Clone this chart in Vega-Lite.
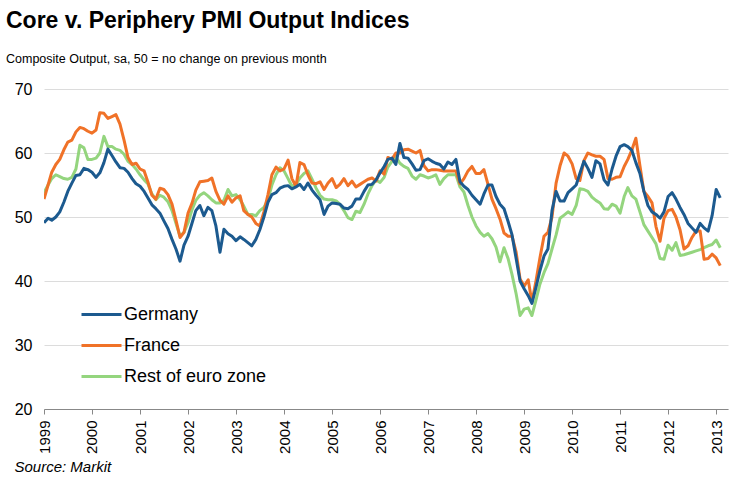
{
  "$schema": "https://vega.github.io/schema/vega-lite/v6.json",
  "width": 684,
  "height": 320,
  "autosize": "none",
  "padding": {"left": 44, "top": 89, "right": 8, "bottom": 70},
  "background": "white",
  "title": {
    "text": "Core v. Periphery PMI Output Indices",
    "subtitle": "Composite Output, sa, 50 = no change on previous month",
    "anchor": "start",
    "frame": "group",
    "dx": -38,
    "offset": 16,
    "font": "Liberation Sans",
    "fontSize": 23,
    "fontWeight": "bold",
    "color": "#000000",
    "subtitleFont": "Liberation Sans",
    "subtitleFontSize": 12.5,
    "subtitleColor": "#000000",
    "subtitlePadding": 20
  },
  "config": {
    "view": {"stroke": null},
    "font": "Liberation Sans"
  },
  "data": {
    "values": [
      {"d":"1999-01-01","Germany":49.1,"France":52.8,"Rest of euro zone":53.8},
      {"d":"1999-02-01","Germany":49.8,"France":55.0,"Rest of euro zone":55.0},
      {"d":"1999-03-01","Germany":49.5,"France":57.0,"Rest of euro zone":56.0},
      {"d":"1999-04-01","Germany":50.0,"France":58.2,"Rest of euro zone":56.6},
      {"d":"1999-05-01","Germany":50.8,"France":59.0,"Rest of euro zone":56.3},
      {"d":"1999-06-01","Germany":52.3,"France":60.5,"Rest of euro zone":56.0},
      {"d":"1999-07-01","Germany":54.0,"France":61.7,"Rest of euro zone":55.9},
      {"d":"1999-08-01","Germany":55.3,"France":62.0,"Rest of euro zone":56.2},
      {"d":"1999-09-01","Germany":56.5,"France":63.3,"Rest of euro zone":57.5},
      {"d":"1999-10-01","Germany":56.6,"France":64.0,"Rest of euro zone":61.2},
      {"d":"1999-11-01","Germany":57.6,"France":63.8,"Rest of euro zone":60.8},
      {"d":"1999-12-01","Germany":57.4,"France":63.4,"Rest of euro zone":59.0},
      {"d":"2000-01-01","Germany":57.0,"France":63.1,"Rest of euro zone":59.0},
      {"d":"2000-02-01","Germany":56.2,"France":63.6,"Rest of euro zone":59.2},
      {"d":"2000-03-01","Germany":56.9,"France":66.3,"Rest of euro zone":60.0},
      {"d":"2000-04-01","Germany":58.5,"France":66.2,"Rest of euro zone":62.6},
      {"d":"2000-05-01","Germany":60.6,"France":65.4,"Rest of euro zone":61.0},
      {"d":"2000-06-01","Germany":59.6,"France":65.7,"Rest of euro zone":61.0},
      {"d":"2000-07-01","Germany":58.6,"France":66.0,"Rest of euro zone":60.6},
      {"d":"2000-08-01","Germany":57.7,"France":64.5,"Rest of euro zone":60.4},
      {"d":"2000-09-01","Germany":57.6,"France":62.0,"Rest of euro zone":59.8},
      {"d":"2000-10-01","Germany":57.0,"France":59.3,"Rest of euro zone":58.7},
      {"d":"2000-11-01","Germany":56.0,"France":58.2,"Rest of euro zone":58.2},
      {"d":"2000-12-01","Germany":55.2,"France":58.4,"Rest of euro zone":57.5},
      {"d":"2001-01-01","Germany":54.8,"France":57.5,"Rest of euro zone":56.6},
      {"d":"2001-02-01","Germany":54.0,"France":57.2,"Rest of euro zone":55.8},
      {"d":"2001-03-01","Germany":53.0,"France":55.5,"Rest of euro zone":55.2},
      {"d":"2001-04-01","Germany":51.9,"France":53.4,"Rest of euro zone":53.6},
      {"d":"2001-05-01","Germany":51.3,"France":52.8,"Rest of euro zone":52.7},
      {"d":"2001-06-01","Germany":50.6,"France":54.5,"Rest of euro zone":53.4},
      {"d":"2001-07-01","Germany":49.4,"France":54.3,"Rest of euro zone":53.1},
      {"d":"2001-08-01","Germany":48.2,"France":53.5,"Rest of euro zone":52.4},
      {"d":"2001-09-01","Germany":46.5,"France":52.0,"Rest of euro zone":51.0},
      {"d":"2001-10-01","Germany":45.0,"France":49.5,"Rest of euro zone":49.0},
      {"d":"2001-11-01","Germany":43.1,"France":46.8,"Rest of euro zone":47.0},
      {"d":"2001-12-01","Germany":45.6,"France":47.6,"Rest of euro zone":47.6},
      {"d":"2002-01-01","Germany":47.0,"France":50.6,"Rest of euro zone":49.1},
      {"d":"2002-02-01","Germany":49.1,"France":52.2,"Rest of euro zone":51.2},
      {"d":"2002-03-01","Germany":51.0,"France":54.2,"Rest of euro zone":52.6},
      {"d":"2002-04-01","Germany":51.8,"France":55.5,"Rest of euro zone":53.4},
      {"d":"2002-05-01","Germany":50.2,"France":55.6,"Rest of euro zone":53.8},
      {"d":"2002-06-01","Germany":51.5,"France":55.7,"Rest of euro zone":53.3},
      {"d":"2002-07-01","Germany":51.0,"France":56.1,"Rest of euro zone":52.7},
      {"d":"2002-08-01","Germany":48.6,"France":54.0,"Rest of euro zone":52.2},
      {"d":"2002-09-01","Germany":44.5,"France":52.6,"Rest of euro zone":52.2},
      {"d":"2002-10-01","Germany":48.1,"France":52.0,"Rest of euro zone":52.6},
      {"d":"2002-11-01","Germany":47.4,"France":53.3,"Rest of euro zone":54.3},
      {"d":"2002-12-01","Germany":47.0,"France":52.3,"Rest of euro zone":53.3},
      {"d":"2003-01-01","Germany":46.3,"France":53.0,"Rest of euro zone":53.5},
      {"d":"2003-02-01","Germany":46.9,"France":53.3,"Rest of euro zone":52.7},
      {"d":"2003-03-01","Germany":46.5,"France":51.0,"Rest of euro zone":51.7},
      {"d":"2003-04-01","Germany":46.0,"France":50.4,"Rest of euro zone":50.4},
      {"d":"2003-05-01","Germany":45.5,"France":50.0,"Rest of euro zone":50.4},
      {"d":"2003-06-01","Germany":46.5,"France":49.0,"Rest of euro zone":50.2},
      {"d":"2003-07-01","Germany":48.0,"France":48.6,"Rest of euro zone":51.0},
      {"d":"2003-08-01","Germany":50.0,"France":50.8,"Rest of euro zone":51.5},
      {"d":"2003-09-01","Germany":52.3,"France":53.5,"Rest of euro zone":52.7},
      {"d":"2003-10-01","Germany":53.5,"France":56.6,"Rest of euro zone":55.0},
      {"d":"2003-11-01","Germany":53.8,"France":57.8,"Rest of euro zone":56.6},
      {"d":"2003-12-01","Germany":54.5,"France":57.2,"Rest of euro zone":57.7},
      {"d":"2004-01-01","Germany":54.8,"France":57.5,"Rest of euro zone":57.2},
      {"d":"2004-02-01","Germany":54.9,"France":58.9,"Rest of euro zone":56.0},
      {"d":"2004-03-01","Germany":54.4,"France":56.0,"Rest of euro zone":54.8},
      {"d":"2004-04-01","Germany":54.7,"France":54.8,"Rest of euro zone":55.1},
      {"d":"2004-05-01","Germany":55.1,"France":58.5,"Rest of euro zone":56.1},
      {"d":"2004-06-01","Germany":54.3,"France":58.2,"Rest of euro zone":56.8},
      {"d":"2004-07-01","Germany":55.3,"France":56.6,"Rest of euro zone":57.2},
      {"d":"2004-08-01","Germany":54.2,"France":55.3,"Rest of euro zone":55.9},
      {"d":"2004-09-01","Germany":53.4,"France":55.2,"Rest of euro zone":54.5},
      {"d":"2004-10-01","Germany":52.7,"France":55.5,"Rest of euro zone":53.4},
      {"d":"2004-11-01","Germany":50.4,"France":54.3,"Rest of euro zone":52.8},
      {"d":"2004-12-01","Germany":51.7,"France":55.3,"Rest of euro zone":52.7},
      {"d":"2005-01-01","Germany":52.2,"France":56.0,"Rest of euro zone":52.7},
      {"d":"2005-02-01","Germany":52.1,"France":54.6,"Rest of euro zone":52.5},
      {"d":"2005-03-01","Germany":52.0,"France":55.1,"Rest of euro zone":52.0},
      {"d":"2005-04-01","Germany":51.4,"France":56.0,"Rest of euro zone":51.0},
      {"d":"2005-05-01","Germany":51.3,"France":54.9,"Rest of euro zone":49.9},
      {"d":"2005-06-01","Germany":51.7,"France":55.6,"Rest of euro zone":49.6},
      {"d":"2005-07-01","Germany":52.8,"France":54.7,"Rest of euro zone":50.9},
      {"d":"2005-08-01","Germany":52.8,"France":55.1,"Rest of euro zone":50.7},
      {"d":"2005-09-01","Germany":54.0,"France":55.5,"Rest of euro zone":52.0},
      {"d":"2005-10-01","Germany":55.0,"France":55.9,"Rest of euro zone":53.6},
      {"d":"2005-11-01","Germany":55.1,"France":56.1,"Rest of euro zone":54.9},
      {"d":"2005-12-01","Germany":55.8,"France":55.6,"Rest of euro zone":55.8},
      {"d":"2006-01-01","Germany":56.9,"France":57.2,"Rest of euro zone":55.4},
      {"d":"2006-02-01","Germany":57.9,"France":56.7,"Rest of euro zone":56.2},
      {"d":"2006-03-01","Germany":59.0,"France":59.3,"Rest of euro zone":57.8},
      {"d":"2006-04-01","Germany":59.2,"France":59.0,"Rest of euro zone":58.7},
      {"d":"2006-05-01","Germany":58.2,"France":60.0,"Rest of euro zone":59.4},
      {"d":"2006-06-01","Germany":61.5,"France":60.0,"Rest of euro zone":58.4},
      {"d":"2006-07-01","Germany":59.3,"France":60.5,"Rest of euro zone":57.9},
      {"d":"2006-08-01","Germany":59.2,"France":60.6,"Rest of euro zone":57.6},
      {"d":"2006-09-01","Germany":58.3,"France":60.3,"Rest of euro zone":56.4},
      {"d":"2006-10-01","Germany":57.3,"France":60.0,"Rest of euro zone":55.9},
      {"d":"2006-11-01","Germany":57.4,"France":60.4,"Rest of euro zone":56.6},
      {"d":"2006-12-01","Germany":58.8,"France":58.0,"Rest of euro zone":56.4},
      {"d":"2007-01-01","Germany":59.1,"France":57.2,"Rest of euro zone":56.1},
      {"d":"2007-02-01","Germany":58.7,"France":57.4,"Rest of euro zone":56.3},
      {"d":"2007-03-01","Germany":58.4,"France":57.4,"Rest of euro zone":56.6},
      {"d":"2007-04-01","Germany":58.2,"France":57.3,"Rest of euro zone":55.1},
      {"d":"2007-05-01","Germany":57.5,"France":57.2,"Rest of euro zone":56.0},
      {"d":"2007-06-01","Germany":58.6,"France":57.2,"Rest of euro zone":56.6},
      {"d":"2007-07-01","Germany":58.2,"France":57.2,"Rest of euro zone":56.6},
      {"d":"2007-08-01","Germany":59.0,"France":57.2,"Rest of euro zone":56.6},
      {"d":"2007-09-01","Germany":55.5,"France":55.2,"Rest of euro zone":54.7},
      {"d":"2007-10-01","Germany":54.8,"France":56.0,"Rest of euro zone":53.9},
      {"d":"2007-11-01","Germany":54.3,"France":57.2,"Rest of euro zone":51.8},
      {"d":"2007-12-01","Germany":53.4,"France":57.9,"Rest of euro zone":50.0},
      {"d":"2008-01-01","Germany":52.7,"France":56.8,"Rest of euro zone":48.6},
      {"d":"2008-02-01","Germany":52.0,"France":56.8,"Rest of euro zone":47.6},
      {"d":"2008-03-01","Germany":53.6,"France":57.4,"Rest of euro zone":47.0},
      {"d":"2008-04-01","Germany":55.0,"France":55.1,"Rest of euro zone":47.4},
      {"d":"2008-05-01","Germany":55.0,"France":52.8,"Rest of euro zone":46.6},
      {"d":"2008-06-01","Germany":53.2,"France":51.3,"Rest of euro zone":45.3},
      {"d":"2008-07-01","Germany":52.0,"France":49.7,"Rest of euro zone":43.0},
      {"d":"2008-08-01","Germany":51.3,"France":47.5,"Rest of euro zone":45.2},
      {"d":"2008-09-01","Germany":49.3,"France":47.0,"Rest of euro zone":43.5},
      {"d":"2008-10-01","Germany":47.2,"France":47.0,"Rest of euro zone":41.0},
      {"d":"2008-11-01","Germany":43.5,"France":44.5,"Rest of euro zone":38.0},
      {"d":"2008-12-01","Germany":40.0,"France":40.3,"Rest of euro zone":34.6},
      {"d":"2009-01-01","Germany":38.8,"France":39.2,"Rest of euro zone":35.6},
      {"d":"2009-02-01","Germany":37.7,"France":40.2,"Rest of euro zone":35.8},
      {"d":"2009-03-01","Germany":36.5,"France":36.7,"Rest of euro zone":34.6},
      {"d":"2009-04-01","Germany":39.0,"France":40.0,"Rest of euro zone":37.0},
      {"d":"2009-05-01","Germany":41.6,"France":43.6,"Rest of euro zone":39.5},
      {"d":"2009-06-01","Germany":43.9,"France":47.0,"Rest of euro zone":41.3},
      {"d":"2009-07-01","Germany":45.0,"France":47.6,"Rest of euro zone":42.7},
      {"d":"2009-08-01","Germany":51.0,"France":50.0,"Rest of euro zone":45.0},
      {"d":"2009-09-01","Germany":54.0,"France":55.3,"Rest of euro zone":47.2},
      {"d":"2009-10-01","Germany":52.5,"France":58.0,"Rest of euro zone":49.8},
      {"d":"2009-11-01","Germany":52.5,"France":60.0,"Rest of euro zone":50.3},
      {"d":"2009-12-01","Germany":53.8,"France":59.5,"Rest of euro zone":50.8},
      {"d":"2010-01-01","Germany":54.4,"France":58.3,"Rest of euro zone":50.4},
      {"d":"2010-02-01","Germany":55.0,"France":56.0,"Rest of euro zone":51.8},
      {"d":"2010-03-01","Germany":56.8,"France":55.7,"Rest of euro zone":54.4},
      {"d":"2010-04-01","Germany":58.7,"France":58.8,"Rest of euro zone":54.3},
      {"d":"2010-05-01","Germany":57.6,"France":60.0,"Rest of euro zone":54.0},
      {"d":"2010-06-01","Germany":56.2,"France":59.7,"Rest of euro zone":53.1},
      {"d":"2010-07-01","Germany":58.8,"France":59.5,"Rest of euro zone":52.6},
      {"d":"2010-08-01","Germany":58.3,"France":59.5,"Rest of euro zone":52.2},
      {"d":"2010-09-01","Germany":55.8,"France":59.0,"Rest of euro zone":51.3},
      {"d":"2010-10-01","Germany":55.0,"France":56.0,"Rest of euro zone":51.2},
      {"d":"2010-11-01","Germany":57.5,"France":55.9,"Rest of euro zone":52.0},
      {"d":"2010-12-01","Germany":59.5,"France":56.2,"Rest of euro zone":51.7},
      {"d":"2011-01-01","Germany":61.0,"France":56.3,"Rest of euro zone":50.6},
      {"d":"2011-02-01","Germany":61.3,"France":57.9,"Rest of euro zone":53.2},
      {"d":"2011-03-01","Germany":61.0,"France":59.0,"Rest of euro zone":54.6},
      {"d":"2011-04-01","Germany":60.4,"France":60.5,"Rest of euro zone":53.3},
      {"d":"2011-05-01","Germany":58.5,"France":62.3,"Rest of euro zone":52.8},
      {"d":"2011-06-01","Germany":56.8,"France":58.0,"Rest of euro zone":50.8},
      {"d":"2011-07-01","Germany":54.0,"France":54.0,"Rest of euro zone":48.8},
      {"d":"2011-08-01","Germany":51.8,"France":53.2,"Rest of euro zone":47.8},
      {"d":"2011-09-01","Germany":50.8,"France":52.2,"Rest of euro zone":46.8},
      {"d":"2011-10-01","Germany":50.4,"France":48.5,"Rest of euro zone":45.8},
      {"d":"2011-11-01","Germany":49.8,"France":46.2,"Rest of euro zone":43.5},
      {"d":"2011-12-01","Germany":50.8,"France":49.8,"Rest of euro zone":43.4},
      {"d":"2012-01-01","Germany":53.2,"France":51.0,"Rest of euro zone":45.6},
      {"d":"2012-02-01","Germany":53.8,"France":51.2,"Rest of euro zone":44.8},
      {"d":"2012-03-01","Germany":52.8,"France":50.0,"Rest of euro zone":46.0},
      {"d":"2012-04-01","Germany":51.5,"France":48.0,"Rest of euro zone":44.0},
      {"d":"2012-05-01","Germany":50.4,"France":45.0,"Rest of euro zone":44.1},
      {"d":"2012-06-01","Germany":49.0,"France":45.5,"Rest of euro zone":44.3},
      {"d":"2012-07-01","Germany":48.3,"France":46.8,"Rest of euro zone":44.5},
      {"d":"2012-08-01","Germany":47.6,"France":47.8,"Rest of euro zone":44.7},
      {"d":"2012-09-01","Germany":49.0,"France":47.8,"Rest of euro zone":44.9},
      {"d":"2012-10-01","Germany":48.3,"France":43.4,"Rest of euro zone":45.2},
      {"d":"2012-11-01","Germany":47.8,"France":43.5,"Rest of euro zone":45.5},
      {"d":"2012-12-01","Germany":50.2,"France":44.2,"Rest of euro zone":45.7},
      {"d":"2013-01-01","Germany":54.3,"France":43.6,"Rest of euro zone":46.4},
      {"d":"2013-02-01","Germany":53.0,"France":42.4,"Rest of euro zone":45.2}
    ]
  },
  "transform": [
    {"fold": ["Rest of euro zone", "France", "Germany"], "as": ["series", "value"]}
  ],
  "mark": {"type": "line", "strokeWidth": 3, "strokeJoin": "round", "clip": true},
  "encoding": {
    "x": {
      "field": "d",
      "type": "temporal",
      "scale": {"domain": ["1999-01-01", "2013-04-01"]},
      "axis": {
        "title": "Source: Markit",
        "titleFont": "Liberation Sans",
        "titleFontSize": 15,
        "titleFontStyle": "italic",
        "titleFontWeight": "normal",
        "titleColor": "#000000",
        "titleAnchor": "start",
        "titleAlign": "left",
        "titleBaseline": "alphabetic",
        "titleX": -30,
        "titleY": 62,
        "format": "%Y",
        "tickCount": {"interval": "year", "step": 1},
        "labelAngle": 270,
        "labelAlign": "right",
        "labelBaseline": "middle",
        "labelFont": "Liberation Sans",
        "labelFontSize": 15,
        "labelColor": "#000000",
        "labelPadding": 6,
        "labelOverlap": false,
        "labelFlush": false,
        "grid": false,
        "domainColor": "#888888",
        "domainWidth": 1,
        "tickColor": "#888888",
        "tickSize": 5
      }
    },
    "y": {
      "field": "value",
      "type": "quantitative",
      "scale": {"domain": [20, 70], "nice": false, "zero": false},
      "axis": {
        "title": null,
        "values": [20, 30, 40, 50, 60, 70],
        "labelFont": "Liberation Sans",
        "labelFontSize": 16,
        "labelColor": "#000000",
        "labelPadding": 12,
        "domain": false,
        "ticks": false,
        "grid": true,
        "gridColor": "#dcdcdc",
        "gridWidth": 1
      }
    },
    "color": {
      "field": "series",
      "type": "nominal",
      "scale": {
        "domain": ["Germany", "France", "Rest of euro zone"],
        "range": ["#1c5a8f", "#f07228", "#94d57e"]
      },
      "legend": {
        "title": null,
        "orient": "none",
        "legendX": 36,
        "legendY": 204,
        "symbolType": "stroke",
        "symbolSize": 1600,
        "symbolStrokeWidth": 3,
        "labelFont": "Liberation Sans",
        "labelFontSize": 18,
        "labelColor": "#000000",
        "labelOffset": 1,
        "rowPadding": -7
      }
    }
  }
}
